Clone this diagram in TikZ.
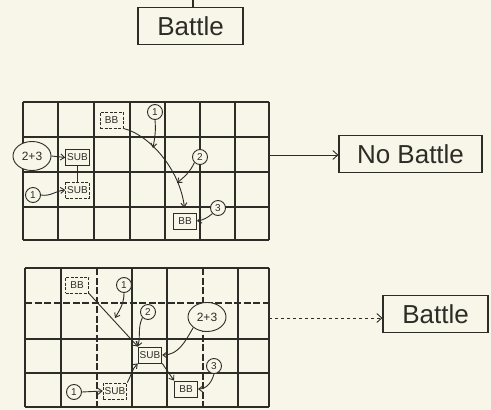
\documentclass[tikz,border=0pt]{standalone}
\usepackage{fontspec}
\setmainfont{Liberation Sans}
\usetikzlibrary{arrows.meta,shapes.geometric}
\definecolor{paper}{RGB}{248,246,233}
\definecolor{pencil}{RGB}{45,45,40}
\begin{document}
\begin{tikzpicture}[x=1pt, y=-1pt, pencil,
    gridline/.style={draw=pencil, line width=1.1pt},
    faint/.style={dash pattern=on 7pt off 2.5pt},
    outbox/.style={draw, fill=paper, line width=1.1pt, minimum height=37pt, inner sep=3pt,
      font=\fontsize{26}{28}\selectfont},
    unitbox/.style={draw, fill=paper, line width=0.9pt, inner sep=1.5pt, minimum height=16pt,
      minimum width=23pt, font=\fontsize{10}{11}\selectfont},
    ghostbox/.style={unitbox, dash pattern=on 3pt off 1.5pt},
    tagnode/.style={circle, draw, fill=paper, line width=0.9pt, inner sep=0.6pt, minimum size=15pt,
      font=\fontsize{10}{11}\selectfont},
    pairnode/.style={ellipse, draw, fill=paper, line width=0.9pt, inner sep=0.2pt,
      minimum width=38pt, minimum height=29pt, font=\fontsize{12}{14}\selectfont},
    move/.style={-{Straight Barb[length=4pt,width=6pt]}, line width=0.9pt},
    result/.style={-{Straight Barb[length=5pt,width=9pt]}, line width=0.9pt}
  ]
  \fill[paper] (0,0) rectangle (491,410);
  \useasboundingbox (0,0) rectangle (491,410);
  % top box
  \node[outbox, minimum width=105pt] (battle0) at (190.5,26) {Battle};
  \coordinate (feed) at (193,0);
  \draw[line width=1.1pt] (feed) -- (feed |- battle0.north);
  % first board
  \foreach \x in {23,58,94,130,165,200,235,269}
    \draw[gridline] (\x,102) -- (\x,240);
  \foreach \y in {102,137,172,207,240}
    \draw[gridline] (23,\y) -- (269,\y);
  \node[ghostbox] (bbone) at (111.5,120) {BB};
  \node[unitbox] (subone) at (77.5,157.5) {SUB};
  \node[ghostbox] (subonedash) at (77.5,190) {SUB};
  \node[pairnode] (pairone) at (32,156) {2+3};
  \node[tagnode] (stepone) at (33,195) {1};
  \node[tagnode] (taga) at (155,112) {1};
  \node[tagnode] (tagb) at (200,157) {2};
  \node[tagnode] (tagc) at (218,208) {3};
  \node[unitbox] (bbonefin) at (185,221) {BB};
  \coordinate (hita) at (153,148);
  \coordinate (hitb) at (177,183);
  \draw[move] (pairone.east) -- (subone.west);
  \draw[line width=0.9pt] (subone.south) -- ++(0,4) -| (subonedash.north);
  \draw[move] (stepone.east) to[out=-10,in=185] (subonedash.west);
  \draw[move, shorten >=5pt] (bbone.south east) .. controls (150,135) and (180,170) .. (bbonefin.north);
  \draw[move] (taga.south) to[out=-85,in=80] (hita);
  \draw[move] (tagb.south west) to[out=-115,in=40] (hitb);
  \draw[move] (tagc.south west) to[out=-140,in=10] (bbonefin.east);
  % second board
  \foreach \x/\kind in {25/solid,61/solid,97/faint,132/solid,167/solid,203/faint,238/solid,269/solid}
    \draw[gridline, \kind] (\x,268) -- (\x,407);
  \foreach \y/\kind in {268/solid,303/faint,339/solid,373/solid,407/solid}
    \draw[gridline, \kind] (25,\y) -- (269,\y);
  \node[ghostbox] (bbtwo) at (77,285) {BB};
  \node[tagnode] (tagd) at (124,285) {1};
  \node[tagnode] (tage) at (148,312) {2};
  \node[pairnode] (pairtwo) at (207,317) {2+3};
  \node[unitbox] (subtwo) at (150,355) {SUB};
  \node[unitbox] (bbtwofin) at (186,389) {BB};
  \node[tagnode] (tagf) at (214,366) {3};
  \node[tagnode] (steptwo) at (74,392) {1};
  \node[ghostbox] (subtwodash) at (115,391) {SUB};
  \coordinate (hitd) at (115,318);
  \draw[move] (bbtwo.south east) -- (subtwo.north west);
  \draw[move] (tagd.south) to[out=-90,in=60] (hitd);
  \draw[move] (tage.south west) to[out=-115,in=75] (subtwo.north west);
  \draw[move] (pairtwo.south west) to[out=-120,in=0] (subtwo.east);
  \draw[move] (subtwo.south east) -- (bbtwofin.north west);
  \draw[move] (tagf.south) to[out=-105,in=0] (bbtwofin.east);
  \draw[move] (steptwo.east) -- (subtwodash.west);
  \draw[move] (subtwodash.north east) to[out=60,in=-135] (subtwo.south west);
  % outcomes
  \node[outbox, minimum width=143pt] (nobattle) at (410.5,154) {No Battle};
  \node[outbox, minimum width=105pt] (battle) at (435.5,314) {Battle};
  \coordinate (outone) at (269,155);
  \coordinate (outtwo) at (269,318);
  \draw[result] (outone) -- (outone -| nobattle.west);
  \draw[result, dashed] (outtwo) -- (outtwo -| battle.west);
\end{tikzpicture}
\end{document}
